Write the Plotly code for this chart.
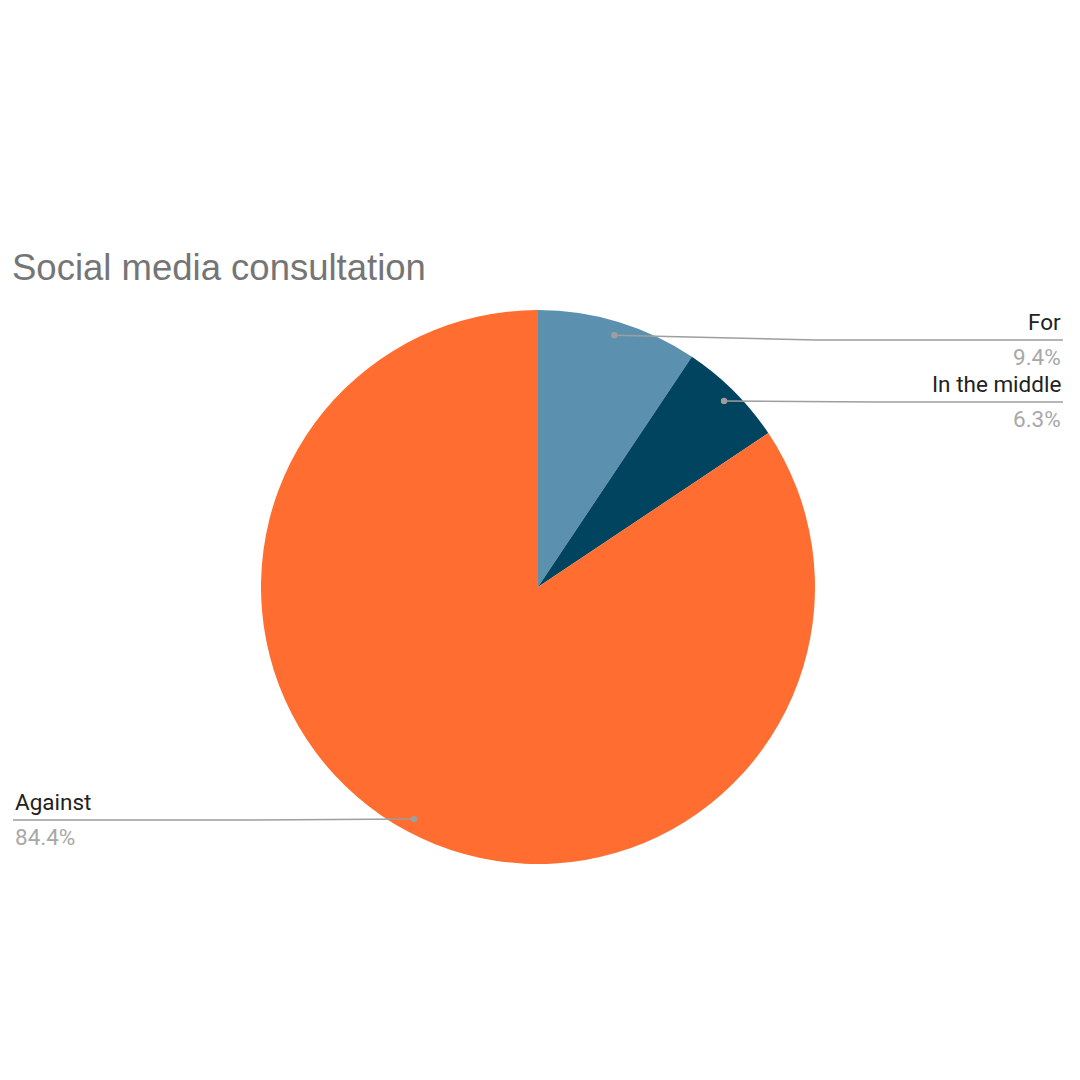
import math
from decimal import Decimal, ROUND_HALF_UP
import plotly.graph_objects as go

# Data
labels = ["For", "In the middle", "Against"]
values = [3, 2, 27]
colors = ["#5b91ae", "#01445f", "#ff6d31"]
title_text = "Social media consultation"

W, H = 1080, 1080
# pie geometry (pixels)
cx, cy, R = 538, 587, 277
dot_frac = 0.95

def px(x):
    return x / W

def py(y):
    return 1 - y / H

fig = go.Figure()
fig.add_trace(go.Pie(
    labels=labels, values=values, sort=False, direction="clockwise", rotation=0,
    marker=dict(colors=colors, line=dict(width=0)),
    textinfo="none", hoverinfo="label+percent", showlegend=False,
    domain=dict(x=[px(cx - R), px(cx + R)], y=[py(cy + R), py(cy - R)]),
))

# label layout: (side, line y pixel)
label_side = ["right", "right", "left"]
label_line_y = [340, 402, 820]
left_x, right_x = 13, 1063
line_col = "#9e9e9e"
lab_font = "Roboto, Liberation Sans, Arial"
lab_size = 22.5

total = sum(values)
cum = 0
shapes = []
annotations = []
for lab, v, side, ly in zip(labels, values, label_side, label_line_y):
    mid = (cum + v / 2) / total * 2 * math.pi
    cum += v
    dx = cx + dot_frac * R * math.sin(mid)
    dy = cy - dot_frac * R * math.cos(mid)
    pct = str(Decimal(100 * v / total).quantize(Decimal("0.1"), rounding=ROUND_HALF_UP)) + "%"
    end_x = right_x if side == "right" else left_x
    bx = dx + (end_x - dx) * 0.45
    path = f"M {px(dx)},{py(dy)} L {px(bx)},{py(ly)} L {px(end_x)},{py(ly)}"
    shapes.append(dict(type="path", xref="paper", yref="paper", path=path,
                       line=dict(color=line_col, width=1.5)))
    r = 3.2
    shapes.append(dict(type="circle", xref="paper", yref="paper",
                       x0=px(dx - r), x1=px(dx + r), y0=py(dy + r), y1=py(dy - r),
                       fillcolor=line_col, line=dict(width=0)))
    anchor = "right" if side == "right" else "left"
    annotations.append(dict(text=lab, x=px(end_x), y=py(ly - 3), xref="paper", yref="paper",
                            xanchor=anchor, yanchor="bottom", showarrow=False,
                            font=dict(family=lab_font, size=lab_size, color="#222222")))
    annotations.append(dict(text=pct, x=px(end_x), y=py(ly + 2), xref="paper", yref="paper",
                            xanchor=anchor, yanchor="top", showarrow=False,
                            font=dict(family=lab_font, size=lab_size, color="#a8a8a8")))

annotations.append(dict(text=title_text, x=px(10), y=py(268), xref="paper", yref="paper",
                        xanchor="left", yanchor="middle", showarrow=False,
                        font=dict(family="Liberation Sans, Arial", size=36.5, color="#757575")))

fig.update_layout(width=W, height=H, autosize=False,
                  margin=dict(l=0, r=0, t=0, b=0),
                  paper_bgcolor="white", plot_bgcolor="white",
                  shapes=shapes, annotations=annotations)

fig.write_html("out.html", config={"displayModeBar": False},
               post_script="document.body.style.margin='0px';")
